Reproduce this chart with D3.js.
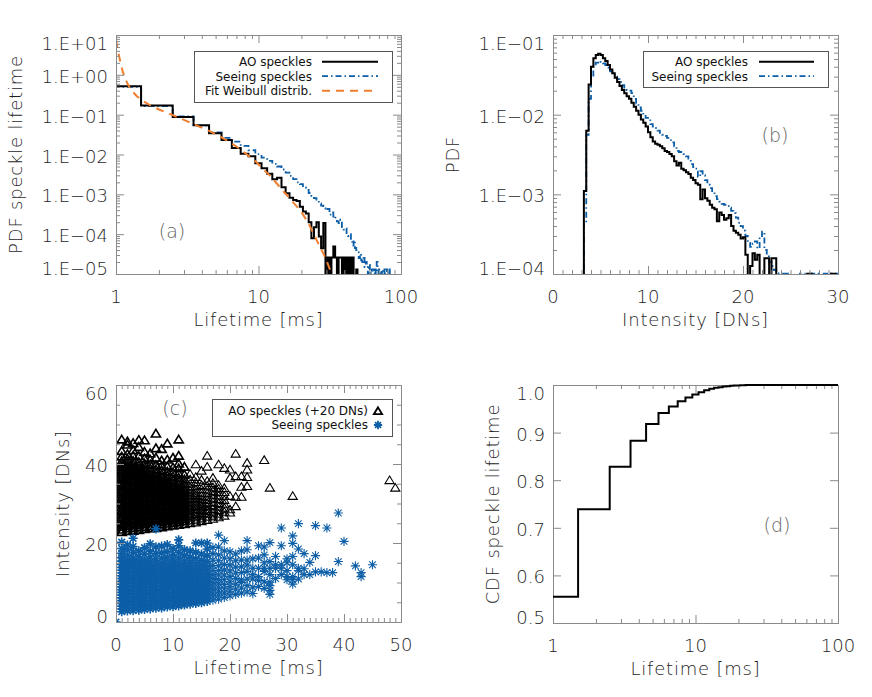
<!DOCTYPE html>
<html><head><meta charset="utf-8">
<script src="https://cdn.jsdelivr.net/npm/d3@7"></script>
<style>
body{margin:0;background:#fff}
text{font-family:"DejaVu Sans",sans-serif}
.lt{font-weight:200}
</style></head>
<body><svg id="c" width="872" height="697"></svg>
<script>
// ---------------- DATA ----------------
// (a) PDF of speckle lifetime (bin centres in ms)
const aoLifetime = [1,2,3,4,5,6,7,8,9,10,11,12,13,14,15,16,17,18,19,20,21,22,23,24,25,26,27,28,29,30,31,32,33,34,35,36,37,38,39,40,41,42,43,44,45,46,47,48,49,50];
const aoPdf = [0.52,0.17,0.088,0.054,0.034,0.023,0.0145,0.0105,0.0090,0.0060,0.0045,0.0033,0.0024,0.0026,0.0015,0.00106,0.00082,0.00072,0.00068,0.00049,0.00037,0.00033,0.00020,0.000079,0.00015,0.00020,0.000087,0.000044,0.00019,0,0.000026,0,0.000026,0.000049,0.000026,0,0.000026,0.000026,0,0.000026,0,0.000026,0,0.000026,0,0.000026,0,0,0.000013,0];
const seeLifetime = [1,2,3,4,5,6,7,8,9,10,11,12,13,14,15,16,17,18,19,20,21,22,23,24,25,26,27,28,29,30,31,32,33,34,35,36,37,38,39,40,41,42,43,44,45,46,47,48,49,50,51,52,53,54,55,56,57,58,59,60,61,62,63,64,65,66,67,68,69,70,71,72,73,74,75,76,77,78,79,80,81,82,83,84,85];
const seePdf = [0.50,0.165,0.090,0.053,0.036,0.026,0.021,0.0165,0.0128,0.0102,0.0083,0.0069,0.0058,0.0050,0.0042,0.0035,0.0029,0.0024,0.0020,0.0018,0.0015,0.0013,0.00108,0.00092,0.00080,0.00068,0.00059,0.00052,0.00045,0.00040,0.00043,0.00031,0.00035,0.00025,0.00026,0.00021,0.00019,0.00023,0.00015,0.00013,0.00014,0.0001,0.00009,0.0001,0.00007,0.000052,0.00007,0.000045,0.00004,0.000035,0.000025,0.000032,0.000022,0.00002,0.000028,0.000015,0.00002,0.000015,0,0.000017,0.000013,0,0.000013,0.000013,0,0.000013,0,0.00002,0.000013,0,0.000013,0.000013,0,0.000013,0,0,0.000013,0,0,0.000013,0,0,0.000013,0,0];
const fitLifetime = [1.0,1.04,1.08,1.12,1.17,1.23,1.3,1.4,1.55,1.75,2.0,2.3,2.7,3.2,3.8,4.5,5.3,6.2,7.2,8.3,9.7,10.8,12.0,13.4,15.0,16.6,18.0,19.5,21.2,23.0,24.3,25.6,27.0,28.5,30.0,31.8,33.0];
const fitPdf = [7.5,3.5,1.9,1.15,0.75,0.52,0.39,0.29,0.22,0.17,0.135,0.11,0.087,0.067,0.051,0.039,0.029,0.021,0.0148,0.0100,0.0064,0.0042,0.0030,0.0019,0.00118,0.00079,0.00056,0.00041,0.00026,0.000155,0.000105,0.000071,0.000048,0.000033,0.000022,0.0000126,0.0000085];

// (b) PDF of intensity (bin starts in DNs, width 0.25)
const intensityBins = [3,3.25,3.5,3.75,4,4.25,4.5,4.75,5,5.25,5.5,5.75,6,6.25,6.5,6.75,7,7.25,7.5,7.75,8,8.25,8.5,8.75,9,9.25,9.5,9.75,10,10.25,10.5,10.75,11,11.25,11.5,11.75,12,12.25,12.5,12.75,13,13.25,13.5,13.75,14,14.25,14.5,14.75,15,15.25,15.5,15.75,16,16.25,16.5,16.75,17,17.25,17.5,17.75,18,18.25,18.5,18.75,19,19.25,19.5,19.75,20,20.25,20.5,20.75,21,21.25,21.5,21.75,22,22.25,22.5,22.75,23,23.25,23.5,23.75,24,24.25,24.5,24.75,25,25.25,25.5,25.75,26,26.25,26.5,26.75,27,27.25,27.5,27.75,28,28.25,28.5,28.75,29,29.25,29.5,29.75];
const aoIntPdf = [0,1.1e-3,6.3e-3,0.024,0.040,0.051,0.056,0.058,0.056,0.051,0.047,0.042,0.037,0.033,0.029,0.0257,0.0229,0.0204,0.0186,0.0170,0.0158,0.0141,0.0126,0.0112,0.0100,0.0087,0.0079,0.0071,0.0060,0.0052,0.0046,0.0043,0.0042,0.0040,0.0038,0.0035,0.0034,0.0032,0.0030,0.0026,0.0023,0.0025,0.0021,0.0020,0.0019,0.0018,0.00162,0.00151,0.00138,0.00132,0.00087,0.00115,0.00089,0.00083,0.00074,0.00068,0.00065,0.00046,0.00059,0.00055,0.00048,0.00050,0.00055,0.00040,0.00035,0.00033,0.00031,0.00028,0.00029,0.000174,0,0.000126,0.000182,0.000151,0.000174,0,0,0.000158,0.000158,0,0.000158,0.000158,0,0,0,0,0,0,0,0,0,0,0,0,0,0.000101,0.000101,0,0,0,0,0,0,0,0,0.000101,0.000101,0];
const seeIntPdf = [0,4.4e-4,5.6e-3,0.0158,0.030,0.040,0.045,0.047,0.046,0.044,0.042,0.039,0.035,0.033,0.030,0.028,0.0257,0.0234,0.0219,0.0204,0.0200,0.0186,0.0158,0.0138,0.0123,0.0112,0.0100,0.0091,0.0085,0.0076,0.0071,0.0068,0.0063,0.0059,0.0056,0.0054,0.0051,0.0048,0.0045,0.0040,0.0035,0.0034,0.0033,0.0032,0.0030,0.0028,0.0024,0.0022,0.0021,0.00166,0.00195,0.00174,0.00151,0.00132,0.00120,0.00110,0.00095,0.00087,0.00081,0.00076,0.00074,0.00071,0.00068,0.00062,0.00058,0.00051,0.00044,0.00040,0.00035,0.00030,0.000245,0.000219,0.00024,0.000257,0.000209,0.00028,0.00034,0.0002,0.000166,0.000141,0.000126,0.000112,0.000102,0.000101,0.000101,0.000101,0.000101,0,0,0,0,0,0.000101,0.000101,0,0.000101,0.000101,0.000101,0,0.000101,0.000101,0,0.000101,0.000101,0,0.000101,0.000101,0.000101];

// (c) scatter: lifetime (ms) and intensities (DNs) per lifetime
const aoScatterLifetime = [1,2,3,4,5,6,7,8,9,10,11,12,13,14,15,16,17,18,19,20,21,22,23,26,27,31,48,49];
const aoScatterIntensity = [
 [22.7,23.3,24.0,24.6,25.1,25.9,26.4,27.1,27.8,28.3,29.0,29.7,30.2,30.9,31.5,32.2,32.8,33.4,34.1,34.7,35.3,36.0,36.6,37.3,37.9,38.5,39.2,39.9,40.6,41.8,43.2,46.1],
 [22.9,23.6,24.2,24.9,25.5,26.1,26.8,27.4,28.0,28.7,29.3,30.0,30.6,31.2,31.9,32.5,33.1,33.8,34.4,35.0,35.7,36.3,37.0,37.6,38.2,38.9,39.5,40.3,41.2,42.4,44.8,45.6],
 [23.0,23.7,24.3,25.0,25.6,26.2,26.9,27.5,28.2,28.8,29.4,30.1,30.7,31.3,32.0,32.6,33.3,33.9,34.5,35.2,35.8,36.4,37.1,37.7,38.4,39.0,39.8,40.7,42.0,43.4,45.2],
 [23.2,23.9,24.5,25.2,25.8,26.4,27.1,27.7,28.4,29.0,29.6,30.3,30.9,31.6,32.2,32.8,33.5,34.1,34.8,35.4,36.0,36.7,37.3,38.0,38.7,39.5,40.4,41.9,44.2,46.0],
 [23.4,24.0,24.7,25.3,26.0,26.6,27.3,27.9,28.5,29.2,29.8,30.5,31.1,31.7,32.4,33.0,33.7,34.3,35.0,35.6,36.2,36.9,37.6,38.3,39.1,40.0,41.3,43.0,45.9],
 [23.6,24.2,24.9,25.5,26.2,26.8,27.4,28.1,28.7,29.4,30.0,30.7,31.3,31.9,32.6,33.2,33.9,34.5,35.2,35.8,36.5,37.2,38.0,38.8,39.8,41.0,42.6],
 [23.7,24.4,25.0,25.7,26.3,27.0,27.6,28.3,28.9,29.6,30.2,30.8,31.5,32.1,32.8,33.4,34.1,34.7,35.4,36.1,36.8,37.6,38.5,39.6,41.5,43.9,47.6],
 [23.9,24.6,25.2,25.9,26.5,27.2,27.8,28.5,29.1,29.7,30.4,31.0,31.7,32.3,33.0,33.7,34.3,35.0,35.7,36.5,37.3,38.3,39.4,40.8,43.7],
 [24.1,24.8,25.4,26.1,26.7,27.4,28.0,28.6,29.3,29.9,30.6,31.2,31.9,32.6,33.2,33.9,34.6,35.3,36.1,37.0,38.0,39.3,41.0,45.1],
 [24.3,25.0,25.6,26.3,26.9,27.6,28.2,28.9,29.5,30.2,30.8,31.5,32.2,32.8,33.5,34.2,35.0,35.8,36.7,37.8,39.0,41.5],
 [24.5,25.2,25.8,26.5,27.1,27.8,28.4,29.1,29.8,30.4,31.1,31.8,32.5,33.2,33.9,34.7,35.5,36.4,37.5,38.8,40.0,42.0,46.1],
 [24.7,25.4,26.0,26.7,27.3,28.0,28.7,29.3,30.0,30.7,31.4,32.1,32.8,33.5,34.3,35.1,36.0,37.2,39.2],
 [24.9,25.6,26.3,26.9,27.6,28.3,28.9,29.6,30.3,31.0,31.7,32.4,33.2,34.0,34.9,36.0,37.4],
 [25.1,25.8,26.5,27.2,27.8,28.5,29.2,29.9,30.6,31.3,32.0,32.6,33.4,34.3,35.3,36.6,39.8],
 [25.4,26.1,26.8,27.5,28.2,28.9,29.6,30.3,31.0,31.8,32.6,33.5,34.6,35.9,38.2],
 [25.7,26.5,27.3,28.0,28.4,29.2,30.0,30.8,31.6,32.5,33.4,34.4,35.6,39.2,42.0],
 [26.0,26.8,27.6,28.5,29.4,30.3,31.2,32.1,33.0,34.0,35.1,36.4],
 [26.4,27.3,28.2,29.1,30.0,31.0,31.9,32.8,33.7,34.6,39.8],
 [26.8,27.8,28.8,29.8,30.8,31.8,32.8,33.8,38.9],
 [27.6,28.4,31.8,36.4,38.5],
 [29.2,31.6,36.8,42.5],
 [31.6,34.1,36.8],
 [34.3,36.6,38.5,40.2],
 [40.9],[33.9],[31.8],[35.8],[33.9]
];
const seeScatterLifetime = [0,1,2,3,4,5,6,7,8,9,10,11,12,13,14,15,16,17,18,19,20,21,22,23,24,25,26,27,28,29,30,31,32,33,34,35,36,37,38,39,40,42,43,45];
const seeScatterIntensity = [
 [0.0],
 [2.6,3.3,4.0,4.7,5.4,6.1,6.8,7.5,8.2,8.9,9.6,10.3,11.0,11.7,12.4,13.1,13.8,14.6,15.4,16.3,17.4,18.6,20.2],
 [2.8,3.5,4.2,4.9,5.6,6.3,7.0,7.7,8.4,9.1,9.8,10.5,11.2,11.9,12.6,13.3,14.1,14.9,15.8,16.9,18.3,19.5],
 [2.9,3.6,4.3,5.0,5.7,6.4,7.1,7.8,8.5,9.2,9.9,10.6,11.3,12.0,12.7,13.5,14.3,15.2,16.2,17.6,19.1,21.2],
 [3.0,3.7,4.4,5.1,5.8,6.5,7.2,7.9,8.6,9.3,10.0,10.7,11.4,12.1,12.9,13.7,14.5,15.4,16.6,18.0],
 [3.2,3.9,4.6,5.3,6.0,6.7,7.4,8.1,8.8,9.5,10.2,10.9,11.6,12.3,13.1,13.9,14.8,15.8,17.2,18.8],
 [3.3,4.0,4.7,5.4,6.1,6.8,7.5,8.2,8.9,9.6,10.3,11.0,11.8,12.6,13.4,14.3,15.3,16.5,17.9,19.8],
 [3.5,4.2,4.9,5.6,6.3,7.0,7.7,8.4,9.1,9.8,10.5,11.3,12.1,12.9,13.8,14.8,16.0,17.4,19.0,23.6],
 [3.6,4.3,5.0,5.7,6.4,7.1,7.8,8.5,9.2,9.9,10.6,11.4,12.2,13.0,13.9,14.9,16.1,17.5,19.2],
 [3.8,4.5,5.2,5.9,6.6,7.3,8.0,8.7,9.4,10.1,10.8,11.6,12.4,13.2,14.1,15.1,16.3,17.8,19.6],
 [3.9,4.6,5.3,6.0,6.7,7.4,8.1,8.8,9.5,10.3,11.1,11.9,12.7,13.6,14.6,15.7,17.0,18.6],
 [4.1,4.8,5.5,6.2,6.9,7.6,8.3,9.0,9.8,10.6,11.4,12.2,13.1,14.0,15.0,16.2,17.6,19.3,20.8],
 [4.3,5.0,5.7,6.4,7.1,7.8,8.5,9.3,10.1,10.9,11.7,12.5,13.4,14.4,15.5,16.8,18.3],
 [4.5,5.2,5.9,6.6,7.3,8.0,8.8,9.6,10.4,11.2,12.1,13.0,14.0,15.1,16.4,18.0],
 [4.7,5.4,6.1,6.8,7.6,8.4,9.2,10.0,10.8,11.7,12.6,13.6,14.7,16.0,17.6,20.0],
 [4.9,5.6,6.4,7.2,8.0,8.8,9.6,10.5,11.4,12.3,13.3,14.4,15.6,17.2,20.0],
 [5.2,6.0,6.8,7.6,8.4,9.2,10.1,11.0,11.9,12.9,14.0,15.3,16.8,18.5,20.0],
 [5.5,6.4,7.3,8.2,9.1,10.0,11.0,12.0,13.1,14.3,15.7,17.3,18.9],
 [5.8,6.8,7.8,8.8,9.8,10.8,11.9,13.0,14.2,15.5,17.0,19.0,22.0],
 [6.2,7.3,8.4,9.5,10.7,11.9,13.2,14.6,16.2,18.0,20.6],
 [6.6,7.8,9.0,10.2,11.5,12.9,14.4,16.0,17.8],
 [7.0,8.3,9.6,11.0,12.4,13.9,15.5,17.2],
 [7.3,8.6,10.0,10.7,12.5,14.0,15.7,18.0],
 [7.6,9.2,10.9,12.8,14.4,15.7,18.3,20.6],
 [7.2,8.8,10.9,12.0,13.6,16.0],
 [9.0,10.5,11.5,13.6,16.2,19.3],
 [8.5,10.2,12.8,13.6,15.0,17.0,19.0],
 [7.0,8.0,9.2,10.1,12.0,13.6,15.3,20.1],
 [11.0,13.6,14.5,16.6],
 [12.0,13.6,14.5,19.3,23.8],
 [10.7,11.5,13.0,15.0,16.0],
 [9.6,10.7,11.5,14.5,16.6,19.9,21.8],
 [10.9,13.0,13.6,18.5,24.9],
 [12.0,13.5,17.3],
 [12.0,15.1],
 [12.7,16.8,24.4],
 [12.7],
 [12.5,23.8],
 [12.5],
 [15.3,27.6],
 [20.4],
 [14.2],
 [11.5,12.5],
 [14.5]
];

// (d) CDF of speckle lifetime
const cdfLifetime = [1,2,3,4,5,6,7,8,9,10,11,12,13,14,15,16,17,18,19,20,21,22,23,24,25,26,27,28,29,30,100];
const cdfValue = [0.555,0.739,0.828,0.883,0.918,0.941,0.955,0.966,0.974,0.980,0.985,0.989,0.992,0.994,0.9955,0.9967,0.9976,0.9983,0.9988,0.9992,0.9995,0.9997,0.9998,0.9999,1.0,1.0,1.0,1.0,1.0,1.0,1.0];

// ticks
const aXTicks = [1,10,100], aXLabels = ["1","10","100"];
const aYTicks = [10,1,0.1,0.01,0.001,1e-4,1e-5], aYLabels = ["1.E+01","1.E+00","1.E\u221201","1.E\u221202","1.E\u221203","1.E\u221204","1.E\u221205"];
const bXTicks = [0,10,20,30], bXLabels = ["0","10","20","30"];
const bYTicks = [0.1,0.01,0.001,1e-4], bYLabels = ["1.E\u221201","1.E\u221202","1.E\u221203","1.E\u221204"];
const cXTicks = [0,10,20,30,40,50], cXLabels = ["0","10","20","30","40","50"];
const cYTicks = [0,20,40,60], cYLabels = ["0","20","40","60"];
const dXTicks = [1,10,100], dXLabels = ["1","10","100"];
const dYTicks = [0.5,0.6,0.7,0.8,0.9,1.0], dYLabels = ["0.5","0.6","0.7","0.8","0.9","1.0"];

// ---------------- DRAWING ----------------
const BLUE = "#0c5ea6", ORANGE = "#ef7f2e", AXIS = "#8a8a8a", LABEL = "#1e1e1e";
const svg = d3.select("#c");
svg.append("rect").attr("width",872).attr("height",697).attr("fill","#fff");
const defs = svg.append("defs");

function panel(id, left, top, w, h) {
  defs.append("clipPath").attr("id","clip-"+id).append("rect").attr("width",w).attr("height",h);
  const g = svg.append("g").attr("transform",`translate(${left},${top})`);
  const data = g.append("g").attr("clip-path",`url(#clip-${id})`);
  return {g, data, w, h};
}

function axes(p, x, y, xMaj, xLab, yMaj, yLab, xMin, yMin) {
  const {g, w, h} = p;
  const st = s => { s.select(".domain").remove(); s.selectAll("line").attr("stroke",AXIS).attr("stroke-width",1); s.selectAll("text").remove(); };
  [[xMaj,8],[xMin,4]].forEach(([vals,len]) => {
    if (!vals) return;
    g.append("g").attr("transform",`translate(0,${h})`).call(d3.axisBottom(x).tickValues(vals).tickSize(-len).tickSizeOuter(0)).call(st);
    g.append("g").call(d3.axisTop(x).tickValues(vals).tickSize(-len).tickSizeOuter(0)).call(st);
  });
  [[yMaj,8],[yMin,4]].forEach(([vals,len]) => {
    if (!vals) return;
    g.append("g").call(d3.axisLeft(y).tickValues(vals).tickSize(-len).tickSizeOuter(0)).call(st);
    g.append("g").attr("transform",`translate(${w},0)`).call(d3.axisRight(y).tickValues(vals).tickSize(-len).tickSizeOuter(0)).call(st);
  });
  g.append("rect").attr("x",0.5).attr("y",0.5).attr("width",w).attr("height",h)
    .attr("fill","none").attr("stroke",AXIS).attr("stroke-width",1);
  g.selectAll(null).data(xMaj).enter().append("text").attr("class","lt")
    .attr("x",d=>x(d)).attr("y",h+28.5).attr("text-anchor","middle")
    .attr("font-size",18).attr("fill",LABEL).text((d,i)=>xLab[i]);
  g.selectAll(null).data(yMaj).enter().append("text").attr("class","lt")
    .attr("x",-8).attr("y",d=>Math.max(8,Math.min(h-5.5,y(d)+1.5))+6.5).attr("text-anchor","end")
    .attr("font-size",18).attr("fill",LABEL).text((d,i)=>yLab[i]);
}

function title(p, xt, yt, ycx) {
  p.g.append("text").attr("class","lt").attr("x",p.w/2).attr("y",p.h+52).attr("text-anchor","middle")
    .attr("font-size",18).attr("fill",LABEL).attr("letter-spacing",0.8).text(xt);
  p.g.append("text").attr("class","lt").attr("transform",`translate(${ycx},${p.h/2}) rotate(-90)`)
    .attr("text-anchor","middle").attr("dy","0.35em")
    .attr("font-size",18).attr("fill",LABEL).attr("letter-spacing",0.8).text(yt);
}

function tag(p, x, y, t) {
  p.g.append("text").attr("class","lt").attr("x",x).attr("y",y).attr("text-anchor","middle").attr("dy","0.35em")
    .attr("font-size",19).attr("fill","#666").text(t);
}

function stepPath(centers, values, width, x, y, h) {
  const pts = [];
  centers.forEach((c,i) => {
    const v = values[i];
    const yy = v > 0 ? y(v) : h + 20;
    pts.push([x(c - width/2), yy], [x(c + width/2), yy]);
  });
  return d3.line()(pts);
}

function legend(p, tx, ty, w, h, textX, lineX1, lineX2, items) {
  const g = p.g.append("g").attr("transform",`translate(${tx},${ty})`);
  g.append("rect").attr("x",0.5).attr("y",0.5).attr("width",w).attr("height",h).attr("fill","#fff").attr("stroke","#555");
  items.forEach((it,i) => {
    const yy = 10.7 + i*14.5;
    g.append("text").attr("x",textX).attr("y",yy+4.3).attr("text-anchor","end").attr("font-size",12)
      .attr("fill","#111").text(it[0]);
    const l = g.append("line").attr("x1",lineX1).attr("x2",lineX2).attr("y1",yy).attr("y2",yy).attr("stroke",it[1]).attr("stroke-width",it[3]);
    if (it[2]) l.attr("stroke-dasharray",it[2]);
  });
}

// ---- Panel (a)
const A = panel("a", 116, 35, 285, 239);
const ax = d3.scaleLog().domain([1,100]).range([0,285]);
const ay = d3.scaleLog().domain([1e-5,10]).range([239,0]);
axes(A, ax, ay, aXTicks, aXLabels, aYTicks, aYLabels,
     ax.ticks().filter(d=>!aXTicks.includes(d)), ay.ticks().filter(d=>!aYTicks.includes(d)));
A.data.append("path").attr("d",stepPath(seeLifetime, seePdf, 1, ax, ay, 239))
  .attr("fill","none").attr("stroke",BLUE).attr("stroke-width",1.8).attr("stroke-dasharray","6,3,1.5,3");
A.data.append("path").attr("d",stepPath(aoLifetime, aoPdf, 1, ax, ay, 239))
  .attr("fill","none").attr("stroke","#000").attr("stroke-width",2);
A.data.append("path").attr("d",d3.line().x((d,i)=>ax(fitLifetime[i])).y(d=>ay(d))(fitPdf))
  .attr("fill","none").attr("stroke",ORANGE).attr("stroke-width",2).attr("stroke-dasharray","8,6");
title(A, "Lifetime [ms]", "PDF speckle lifetime", -100);
tag(A, 56, 196, "(a)");
legend(A, 78, 16, 198, 51, 118, 128, 184,
  [["AO speckles","#000",null,2],["Seeing speckles",BLUE,"6,3,1.5,3",1.8],["Fit Weibull distrib.",ORANGE,"8,6",2]]);

// ---- Panel (b)
const B = panel("b", 553, 35, 285, 239);
const bx = d3.scaleLinear().domain([0,30]).range([0,285]);
const by = d3.scaleLog().domain([1e-4,0.1]).range([239,0]);
axes(B, bx, by, bXTicks, bXLabels, bYTicks, bYLabels,
     bx.ticks(30).filter(d=>!bXTicks.includes(d)), by.ticks().filter(d=>!bYTicks.includes(d)));
B.data.append("path").attr("d",stepPath(intensityBins.map(d=>d+0.125), seeIntPdf, 0.25, bx, by, 239))
  .attr("fill","none").attr("stroke",BLUE).attr("stroke-width",1.8).attr("stroke-dasharray","6,3,1.5,3");
B.data.append("path").attr("d",stepPath(intensityBins.map(d=>d+0.125), aoIntPdf, 0.25, bx, by, 239))
  .attr("fill","none").attr("stroke","#000").attr("stroke-width",2);
title(B, "Intensity [DNs]", "PDF", -100);
tag(B, 222, 100, "(b)");
legend(B, 90, 16, 185, 36, 105, 116, 171,
  [["AO speckles","#000",null,2],["Seeing speckles",BLUE,"6,3,1.5,3",1.8]]);

// ---- Panel (c)
const C = panel("c", 116, 385, 285, 237);
const cx = d3.scaleLinear().domain([0,50]).range([0,285]);
const cy = d3.scaleLinear().domain([0,60]).range([237,0]);
axes(C, cx, cy, cXTicks, cXLabels, cYTicks, cYLabels,
     cx.ticks(50).filter(d=>!cXTicks.includes(d)), cy.ticks(12).filter(d=>!cYTicks.includes(d)));
const tri = "M0,-4.6L4.6,3L-4.6,3Z";
const star = "M-4.6,0H4.6M0,-4.6V4.6M-3.3,-3.3L3.3,3.3M-3.3,3.3L3.3,-3.3";
const aoPts = [];
aoScatterLifetime.forEach((t,i) => aoScatterIntensity[i].forEach(v => aoPts.push([t,v])));
const seePts = [];
seeScatterLifetime.forEach((t,i) => seeScatterIntensity[i].forEach(v => seePts.push([t,v])));
C.data.selectAll(null).data(aoPts).enter().append("path").attr("d",tri)
  .attr("transform",d=>`translate(${cx(d[0])},${cy(d[1])})`)
  .attr("fill","none").attr("stroke","#000").attr("stroke-width",d=>d[0]<=12?1.6:1.1);
C.data.selectAll(null).data(seePts).enter().append("path").attr("d",star)
  .attr("transform",d=>`translate(${cx(d[0])},${cy(d[1])})`)
  .attr("fill","none").attr("stroke",BLUE).attr("stroke-width",d=>d[0]<=16?1.6:1.1);
title(C, "Lifetime [ms]", "Intensity [DNs]", -53);
tag(C, 59, 23, "(c)");
{
  const g = C.g.append("g").attr("transform","translate(96,14)");
  g.append("rect").attr("x",0.5).attr("y",0.5).attr("width",180).attr("height",37).attr("fill","#fff").attr("stroke","#555");
  g.append("text").attr("x",156).attr("y",11.7+4.3).attr("text-anchor","end").attr("font-size",12)
    .attr("fill","#111").text("AO speckles (+20 DNs)");
  g.append("text").attr("x",156).attr("y",26+4.3).attr("text-anchor","end").attr("font-size",12)
    .attr("fill","#111").text("Seeing speckles");
  g.append("path").attr("d",tri).attr("transform","translate(166,12.5) scale(0.9)").attr("fill","none").attr("stroke","#000").attr("stroke-width",2);
  g.append("path").attr("d",star).attr("transform","translate(166,26) scale(0.9)").attr("fill","none").attr("stroke",BLUE).attr("stroke-width",2);
}

// ---- Panel (d)
const D = panel("d", 553, 385, 285, 238);
const dx = d3.scaleLog().domain([1,100]).range([0,285]);
const dy = d3.scaleLinear().domain([0.5,1.0]).range([238,0]);
axes(D, dx, dy, dXTicks, dXLabels, dYTicks, dYLabels,
     dx.ticks().filter(d=>!dXTicks.includes(d)), null);
defs.append("clipPath").attr("id","clip-d2").append("rect").attr("x",0).attr("y",-2).attr("width",285).attr("height",242);
D.g.append("path").attr("clip-path","url(#clip-d2)").attr("d",stepPath(cdfLifetime, cdfValue, 1, dx, dy, 238))
  .attr("fill","none").attr("stroke","#000").attr("stroke-width",2);
title(D, "Lifetime [ms]", "CDF speckle lifetime", -60);
tag(D, 224, 140, "(d)");
</script></body></html>
